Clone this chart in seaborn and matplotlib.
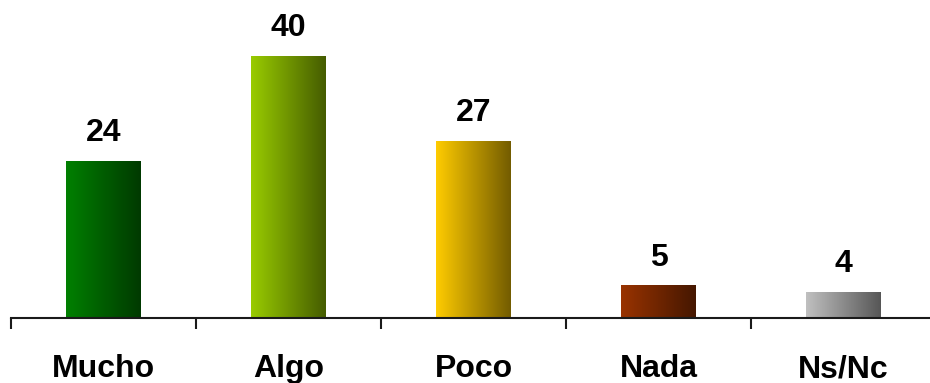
import numpy as np
import pandas as pd
import matplotlib
matplotlib.use("Agg")
import matplotlib.pyplot as plt
import seaborn as sns
from matplotlib.colors import to_rgb

categories = ["Mucho", "Algo", "Poco", "Nada", "Ns/Nc"]
values = [24, 40, 27, 5, 4]
colors = ["#008000", "#99cc00", "#ffcc00", "#993300", "#c0c0c0"]

sns.set_style("white")
plt.rcParams["font.family"] = ["Liberation Sans", "DejaVu Sans"]

fig = plt.figure(figsize=(9.3, 3.83), dpi=100)
ax = fig.add_axes([11 / 930, 65 / 383, 925 / 930, 318 / 383])

df = pd.DataFrame({"cat": categories, "val": values})
sns.barplot(data=df, x="cat", y="val", hue="cat", palette=colors, width=0.405,
            legend=False, ax=ax, saturation=1)

# gradient fill inside each bar
for i, (patch, col) in enumerate(zip(ax.patches, colors)):
    x0, y0 = patch.get_x(), patch.get_y()
    w, h = patch.get_width(), patch.get_height()
    c1 = np.array(to_rgb(col))
    c2 = c1 * 0.45
    t = np.linspace(0, 1, 256)
    grad = (c1[None, :] * (1 - t[:, None]) + c2[None, :] * t[:, None])[None, :, :]
    im = ax.imshow(grad, extent=[x0, x0 + w, y0, y0 + h], aspect="auto",
                   zorder=patch.get_zorder() + 0.1, interpolation="bilinear")
    im.set_clip_path(patch)
    patch.set_facecolor("none")
    patch.set_edgecolor("none")
    ax.annotate(f"{values[i]}",
                xy=(x0 + w / 2, y0 + h), xytext=(0, 9), textcoords="offset points",
                ha="center", va="bottom", fontsize=23, fontweight="bold", color="black")

ax.set_xlim(-0.5, 4.5)
ax.set_ylim(0, 48.5)
ax.set_xlabel("")
ax.set_ylabel("")
ax.set_yticks([])
for s in ["top", "right", "left"]:
    ax.spines[s].set_visible(False)
ax.spines["bottom"].set_linewidth(1.5)
ax.spines["bottom"].set_color("#1a1a1a")

ax.set_xticks(np.arange(-0.5, 5.0, 1.0))
ax.set_xticklabels([])
ax.tick_params(axis="x", which="major", direction="out", length=8, width=1.5,
               color="#1a1a1a", bottom=True)
ax.set_xticks(np.arange(len(categories)), minor=True)
ax.set_xticklabels(categories, minor=True, fontsize=23, fontweight="bold", color="black")
ax.tick_params(axis="x", which="minor", length=0, pad=26, labelcolor="black")

fig.savefig("out.png", dpi=100)
